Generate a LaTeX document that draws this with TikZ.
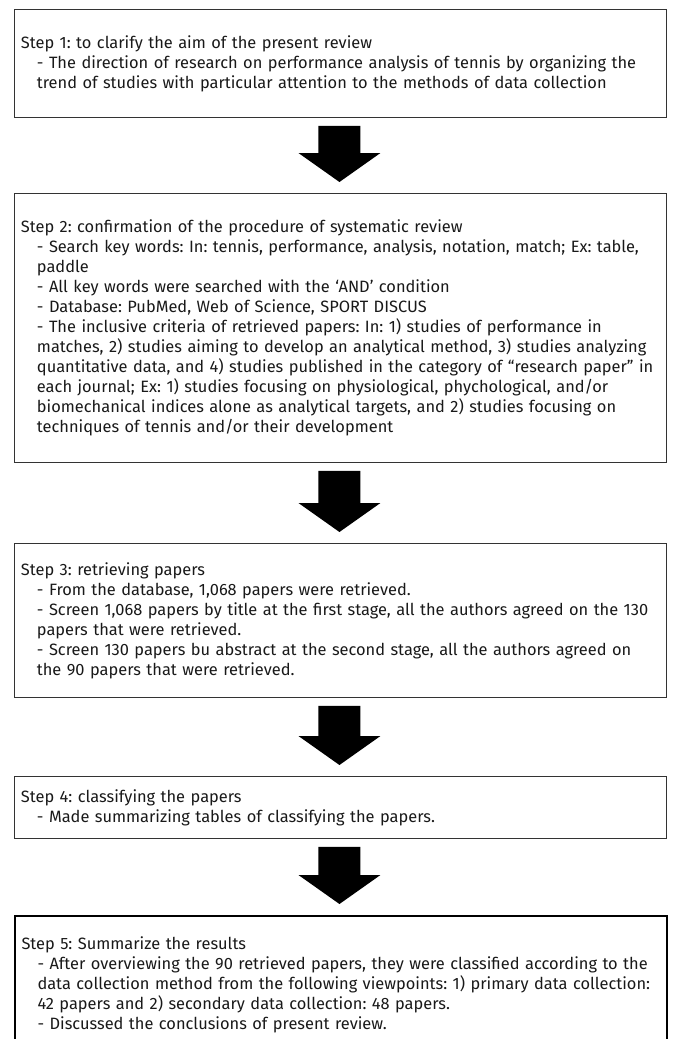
\documentclass[tikz,border=0pt]{standalone}
\usepackage{fontspec}
\setmainfont{Fira Sans}
\usetikzlibrary{calc}
\newcommand\itm[1]{\hspace*{16pt}\mbox{#1}}
\newcommand\hd[1]{\mbox{#1}}
\begin{document}
\frenchspacing
\begin{tikzpicture}[x=1pt,y=-1pt,
  stepbox/.style={draw=black!80, line width=0.9pt, anchor=north west, minimum width=652pt,
    text width=639pt, inner xsep=6.5pt, inner ysep=0pt, align=left,
    font=\fontsize{16.4pt}{20pt}\selectfont\frenchspacing, text=black!90},
  lastbox/.style={stepbox, draw=black, line width=2pt}]
\useasboundingbox (0,0) rectangle (673,1039);
\node[stepbox, minimum height=108pt] (b1) at (14,9) {\hd{Step 1: to clarify the aim of the present review}\\
\itm{- The direction of research on performance analysis of tennis by organizing the}\\
\itm{trend of studies with particular attention to the methods of data collection}};
\node[stepbox, minimum height=269pt] (b2) at (14,193) {\hd{Step 2: confirmation of the procedure of systematic review}\\
\itm{- Search key words: In: tennis, performance, analysis, notation, match; Ex: table,}\\
\itm{paddle}\\
\itm{- All key words were searched with the ‘AND’ condition}\\
\itm{- Database: PubMed, Web of Science, SPORT DISCUS}\\
\itm{- The inclusive criteria of retrieved papers: In: 1) studies of performance in}\\
\itm{matches, 2) studies aiming to develop an analytical method, 3) studies analyzing}\\
\itm{quantitative data, and 4) studies published in the category of “research paper” in}\\
\itm{each journal; Ex: 1) studies focusing on physiological, phychological, and/or}\\
\itm{biomechanical indices alone as analytical targets, and 2) studies focusing on}\\
\itm{techniques of tennis and/or their development}};
\node[stepbox, minimum height=154pt] (b3) at (14,543) {\hd{Step 3: retrieving papers}\\
\itm{- From the database, 1,068 papers were retrieved.}\\
\itm{- Screen 1,068 papers by title at the first stage, all the authors agreed on the 130}\\
\itm{papers that were retrieved.}\\
\itm{- Screen 130 papers bu abstract at the second stage, all the authors agreed on}\\
\itm{the 90 papers that were retrieved.}};
\node[stepbox, minimum height=62pt] (b4) at (14,776) {\hd{Step 4: classifying the papers}\\
\itm{- Made summarizing tables of classifying the papers.}};
\node[lastbox, minimum height=138pt] (b5) at (14,915) {\hd{Step 5: Summarize the results}\\
\itm{- After overviewing the 90 retrieved papers, they were classified according to the}\\
\itm{data collection method from the following viewpoints: 1) primary data collection:}\\
\itm{42 papers and 2) secondary data collection: 48 papers.}\\
\itm{- Discussed the conclusions of present review.}};
\foreach \a/\b/\k in {b1/b2/1,b2/b3/2,b3/b4/3,b4/b5/4}{
  \coordinate (t\k) at ($(\a.south)+(-1,8)$);
  \coordinate (e\k) at ($(\b.north)+(-1,-11)$);
  \fill[black] let \p1=(t\k), \p2=(e\k) in
    (\x1-21pt,\y1) -- (\x1+21pt,\y1) -- (\x1+21pt,\y2+29pt) -- (\x1+41pt,\y2+29pt)
    -- (\x1,\y2) -- (\x1-41pt,\y2+29pt) -- (\x1-21pt,\y2+29pt) -- cycle;
}
\end{tikzpicture}
\end{document}
